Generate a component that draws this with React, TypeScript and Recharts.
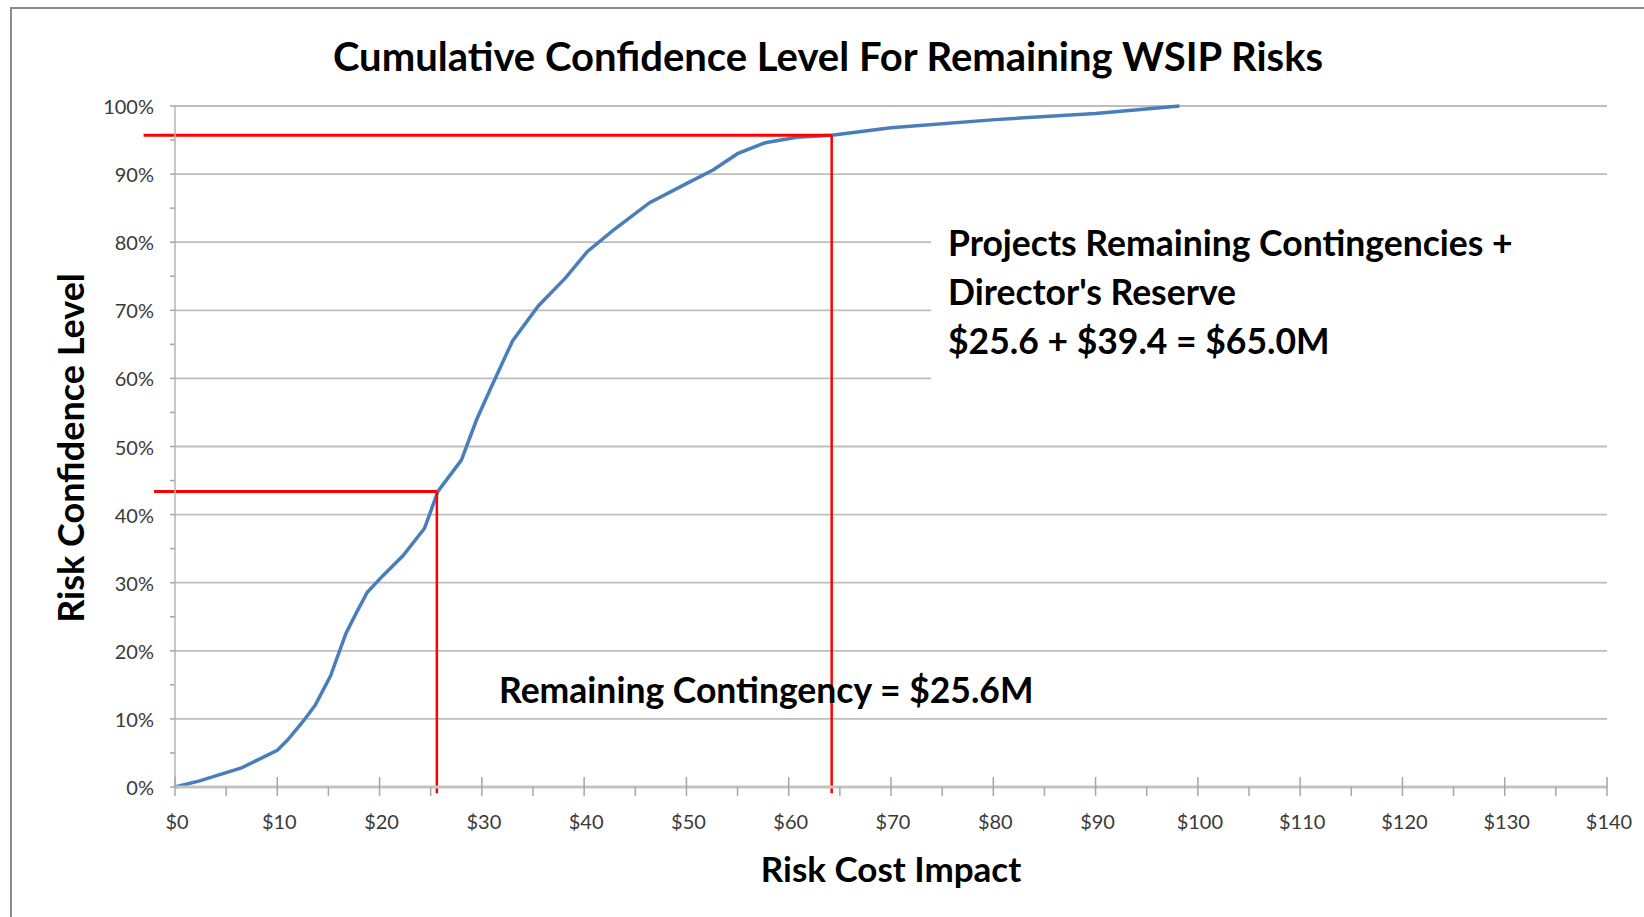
import React from 'react';
import {
  LineChart,
  Line,
  XAxis,
  YAxis,
  CartesianGrid,
  ReferenceLine,
} from 'recharts';

// risk cost impact ($M) and cumulative confidence (%)
const costValues = [
  0, 2.4, 6.5, 10, 11, 12.4, 13.7, 15.2, 16.7, 17.7, 18.8, 20.3, 22.3, 24.4,
  25.7, 28, 29.5, 31, 33, 35.5, 38.2, 40.3, 42.8, 46.4, 50, 52.6, 55, 57.7,
  60.8, 64.2, 70, 80.2, 90, 98.2,
];
const levelValues = [
  0, 0.9, 2.8, 5.4, 6.9, 9.4, 12, 16.3, 22.5, 25.5, 28.6, 31, 34, 38, 43.4, 48,
  54, 59, 65.5, 70.6, 74.8, 78.6, 81.7, 85.8, 88.6, 90.6, 93, 94.6, 95.4, 95.7,
  96.8, 98, 98.9, 100,
];

const xTicks = [0, 5, 10, 15, 20, 25, 30, 35, 40, 45, 50, 55, 60, 65, 70, 75, 80, 85, 90, 95, 100, 105, 110, 115, 120, 125, 130, 135, 140];
const yTicks = [0, 5, 10, 15, 20, 25, 30, 35, 40, 45, 50, 55, 60, 65, 70, 75, 80, 85, 90, 95, 100];
const gridLevels = [10, 20, 30, 40, 50, 60, 70, 80, 90, 100];

// red guide lines: remaining contingency, and contingency + director's reserve
const contingency = 25.6;
const contingencyLevel = 43.4;
const totalReserve = 64.2;
const totalLevel = 95.7;

const data = costValues.map((c, i) => ({ cost: c, level: levelValues[i] }));

const bold = { fontFamily: 'Lato, sans-serif', fontWeight: 700, color: '#000' };

const XTick = (props: any) => {
  const { x, y, payload } = props;
  const v = payload.value;
  const major = v % 10 === 0;
  return (
    <g>
      <line x1={x} x2={x} y1={major ? y - 10 : y} y2={y + 9} stroke="#a6a6a6" strokeWidth={1.5} />
      {major && (
        <text x={x + 2} y={y + 34} textAnchor="middle" dominantBaseline="central"
          fontFamily="Lato, sans-serif" fontSize={20} fill="#3a3a3a">
          ${v}
        </text>
      )}
    </g>
  );
};

const YTick = (props: any) => {
  const { x, y, payload } = props;
  const v = payload.value;
  const major = v % 10 === 0;
  return (
    <g>
      <line x1={x - 5} x2={x} y1={y} y2={y} stroke="#a6a6a6" strokeWidth={1.5} />
      {major && (
        <text x={x - 21} y={y} textAnchor="end" dominantBaseline="central"
          fontFamily="Lato, sans-serif" fontSize={20} fill="#3a3a3a">
          {v}%
        </text>
      )}
    </g>
  );
};

export default function App() {
  return (
    <div style={{ position: 'absolute', left: 0, top: 0, width: 1644, height: 917, background: '#fff', overflow: 'hidden' }}>
      <div style={{ position: 'absolute', left: 10, top: 7, right: 0, bottom: 0, borderLeft: '2px solid #8c8c8c', borderTop: '2px solid #8c8c8c' }} />
      <LineChart width={1644} height={917} data={data} margin={{ top: 106, right: 37, left: 0, bottom: 0 }}>
        <CartesianGrid vertical={false} horizontalValues={gridLevels} stroke="#bdbdbd" strokeWidth={1.8} />
        <XAxis
          dataKey="cost"
          type="number"
          domain={[0, 140]}
          ticks={xTicks}
          interval={0}
          height={130}
          tickSize={0}
          tickMargin={0}
          tickLine={false}
          axisLine={{ stroke: '#c3c3c3', strokeWidth: 3 }}
          tick={<XTick />}
        />
        <YAxis
          type="number"
          domain={[0, 100]}
          ticks={yTicks}
          interval={0}
          width={175}
          tickSize={0}
          tickMargin={0}
          tickLine={false}
          axisLine={{ stroke: '#b5b5b5', strokeWidth: 1.5 }}
          tick={<YTick />}
        />
        <Line dataKey="level" type="linear" stroke="#4a7ebb" strokeWidth={3.5} dot={false} isAnimationActive={false} />
        <ReferenceLine segment={[{ x: -2.05, y: contingencyLevel }, { x: contingency, y: contingencyLevel }]} stroke="#ff0000" strokeWidth={3} ifOverflow="visible" />
        <ReferenceLine segment={[{ x: contingency, y: contingencyLevel }, { x: contingency, y: -0.9 }]} stroke="#ff0000" strokeWidth={2.5} ifOverflow="visible" />
        <ReferenceLine segment={[{ x: -3.07, y: totalLevel }, { x: totalReserve, y: totalLevel }]} stroke="#ff0000" strokeWidth={3} ifOverflow="visible" />
        <ReferenceLine segment={[{ x: totalReserve, y: totalLevel }, { x: totalReserve, y: -0.9 }]} stroke="#ff0000" strokeWidth={2.5} ifOverflow="visible" />
      </LineChart>

      <div style={{ ...bold, position: 'absolute', left: 0, width: 1656, top: 32, textAlign: 'center', fontSize: 40, lineHeight: '48px', whiteSpace: 'nowrap' }}>
        Cumulative Confidence Level For Remaining WSIP Risks
      </div>

      <div style={{ ...bold, position: 'absolute', left: 70, top: 448, fontSize: 36, lineHeight: '40px', whiteSpace: 'nowrap', transform: 'translate(-50%, -50%) rotate(-90deg)' }}>
        Risk Confidence Level
      </div>

      <div style={{ ...bold, position: 'absolute', left: 891, top: 868, fontSize: 35, lineHeight: '40px', whiteSpace: 'nowrap', transform: 'translate(-50%, -50%)' }}>
        Risk Cost Impact
      </div>

      <div style={{ ...bold, position: 'absolute', left: 931, top: 212, width: 690, height: 178, background: '#fff', fontSize: 35.5, lineHeight: '49px', paddingTop: 6, paddingLeft: 17, boxSizing: 'border-box', whiteSpace: 'nowrap' }}>
        <div>Projects Remaining Contingencies +</div>
        <div>Director's Reserve</div>
        <div>$25.6 + $39.4 = $65.0M</div>
      </div>

      <div style={{ ...bold, position: 'absolute', left: 499, top: 690, fontSize: 35.5, lineHeight: '40px', whiteSpace: 'nowrap', transform: 'translateY(-50%)' }}>
        Remaining Contingency = $25.6M
      </div>
    </div>
  );
}
